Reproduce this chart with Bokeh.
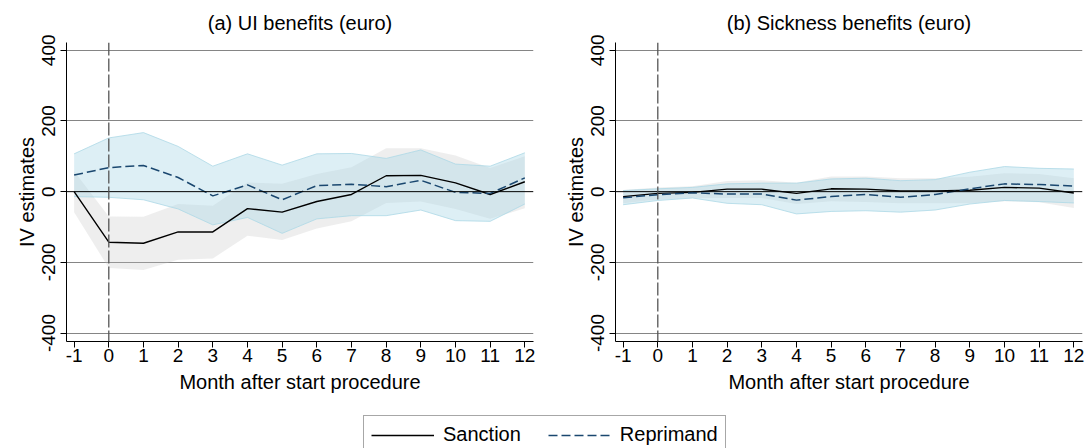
from bokeh.embed import file_html
from bokeh.layouts import column, row
from bokeh.models import ColumnDataSource, FixedTicker, Legend, LegendItem, Range1d, Span
from bokeh.plotting import figure
from bokeh.resources import INLINE

# Months relative to the start of the procedure
months = [-1, 0, 1, 2, 3, 4, 5, 6, 7, 8, 9, 10, 11, 12]

# (a) UI benefits (euro)
ui_sanction = [0, -143, -146, -114, -114, -48, -58, -28, -8, 45, 46, 25, -8, 28]
ui_sanction_lo = [-58, -216, -222, -193, -189, -125, -137, -104, -84, -32, -28, -49, -77, -47]
ui_sanction_hi = [58, -70, -71, -35, -40, 26, 22, 50, 69, 123, 123, 102, 67, 100]
ui_reprimand = [47, 68, 74, 40, -12, 19, -23, 17, 21, 14, 32, -2, -5, 39]
ui_reprimand_lo = [-14, -16, -23, -49, -94, -73, -118, -77, -68, -68, -52, -82, -84, -35]
ui_reprimand_hi = [107, 152, 167, 128, 72, 107, 75, 107, 108, 94, 118, 78, 72, 110]

# (b) Sickness benefits (euro)
sb_sanction = [-14, -5, -2, 7, 7, -5, 8, 7, 2, 2, 4, 12, 10, -4]
sb_sanction_lo = [-33, -22, -18, -18, -18, -35, -27, -29, -33, -33, -33, -27, -30, -46]
sb_sanction_hi = [5, 12, 15, 30, 32, 25, 43, 43, 38, 38, 42, 52, 50, 38]
sb_reprimand = [-17, -9, -3, -7, -7, -24, -14, -8, -16, -8, 8, 22, 20, 16]
sb_reprimand_lo = [-37, -25, -18, -33, -37, -63, -56, -54, -58, -52, -35, -25, -28, -32]
sb_reprimand_hi = [3, 8, 12, 22, 24, 24, 36, 38, 31, 34, 55, 71, 66, 64]

y_ticks = [-400, -200, 0, 200, 400]
series_labels = ["Sanction", "Reprimand"]

FONT = "Liberation Sans"
NAVY = "#1a476f"


def panel(title, s, s_lo, s_hi, r, r_lo, r_hi, width, border_left, border_right):
    p = figure(
        width=width, height=400,
        x_range=Range1d(-1.22, 12.25), y_range=Range1d(-424, 422),
        output_backend="svg", toolbar_location=None,
        min_border_left=border_left, min_border_right=border_right,
        min_border_top=42, min_border_bottom=59,
        background_fill_color="white", border_fill_color="white",
        outline_line_color=None,
    )
    p.title.text = title
    p.title.align = "center"
    p.title.text_font = FONT
    p.title.text_font_size = "20px"
    p.title.text_font_style = "normal"
    p.title.text_color = "black"
    p.title.text_line_height = 0.9
    p.title.standoff = 18

    src = ColumnDataSource(dict(x=months, s=s, s_lo=s_lo, s_hi=s_hi,
                                r=r, r_lo=r_lo, r_hi=r_hi))

    # confidence bands
    p.varea(x="x", y1="s_lo", y2="s_hi", source=src, fill_color="#c0c0c0", fill_alpha=0.27)
    p.varea(x="x", y1="r_lo", y2="r_hi", source=src, fill_color="#add8e6", fill_alpha=0.41)
    p.line(x="x", y="r_lo", source=src, line_color="#add8e6", line_width=1, line_alpha=0.8)
    p.line(x="x", y="r_hi", source=src, line_color="#add8e6", line_width=1, line_alpha=0.8)

    # reference lines
    p.add_layout(Span(location=0, dimension="width", line_color="black", line_width=1))
    p.add_layout(Span(location=0, dimension="height", line_color="#555555",
                      line_width=1.3, line_dash="13 3"))

    # point estimates
    p.line(x="x", y="s", source=src, line_color="black", line_width=1.4)
    p.line(x="x", y="r", source=src, line_color=NAVY, line_width=1.5, line_dash="9 4")

    p.xgrid.visible = False
    p.ygrid.ticker = FixedTicker(ticks=[-400, -200, 200, 400])
    p.ygrid.grid_line_color = "#858585"
    p.ygrid.grid_line_width = 1

    p.xaxis.ticker = FixedTicker(ticks=months)
    p.yaxis.ticker = FixedTicker(ticks=y_ticks)
    # plain hyphen-minus labels
    p.xaxis.major_label_overrides = {m: str(m) for m in months}
    p.yaxis.major_label_overrides = {t: str(t) for t in y_ticks}
    p.xaxis.axis_label = "Month after start procedure"
    p.yaxis.axis_label = "IV estimates"
    p.yaxis.major_label_orientation = "parallel"

    for ax in (p.xaxis, p.yaxis):
        ax.axis_line_color = "black"
        ax.axis_line_width = 1
        ax.major_tick_line_color = "black"
        ax.major_tick_out = 6
        ax.major_tick_in = 0
        ax.minor_tick_line_color = None
        ax.major_label_text_font = FONT
        ax.major_label_text_font_size = "19px"
        ax.major_label_text_color = "black"
        ax.axis_label_text_font = FONT
        ax.axis_label_text_font_size = "20px"
        ax.axis_label_text_font_style = "normal"
        ax.axis_label_text_color = "black"
    p.xaxis.major_label_standoff = 1
    p.xaxis.axis_label_standoff = 6
    p.yaxis.major_label_standoff = 5
    p.yaxis.axis_label_standoff = 2
    return p


p1 = panel("(a) UI benefits (euro)", ui_sanction, ui_sanction_lo, ui_sanction_hi,
           ui_reprimand, ui_reprimand_lo, ui_reprimand_hi, 548, 66, 15)
p2 = panel("(b) Sickness benefits (euro)", sb_sanction, sb_sanction_lo, sb_sanction_hi,
           sb_reprimand, sb_reprimand_lo, sb_reprimand_hi, 541, 67, 7)

# shared legend strip below both panels; the key renderers hold no drawable points
leg = figure(width=1089, height=48, x_range=Range1d(0, 1), y_range=Range1d(0, 1),
             output_backend="svg", toolbar_location=None,
             x_axis_location=None, y_axis_location=None,
             min_border=0, outline_line_color=None,
             background_fill_color="white", border_fill_color="white")
leg.grid.visible = False
nan = float("nan")
key_src = ColumnDataSource(dict(x=[nan], y=[nan]))
g1 = leg.line(x="x", y="y", source=key_src, line_color="black", line_width=1.4)
g2 = leg.line(x="x", y="y", source=key_src, line_color=NAVY, line_width=1.5, line_dash="9 4")
legend = Legend(
    items=[LegendItem(label=series_labels[0], renderers=[g1]),
           LegendItem(label=series_labels[1], renderers=[g2])],
    orientation="horizontal", location=(363, -6),
    glyph_width=63, glyph_height=20, label_standoff=9, spacing=27,
    padding=7, margin=0,
    label_text_font=FONT, label_text_font_size="20px", label_text_color="black",
    border_line_color="#505050", border_line_width=1,
    background_fill_color="white", background_fill_alpha=1,
)
leg.add_layout(legend, "center")

layout = column(row(p1, p2), leg)

with open("out.html", "w") as f:
    f.write(file_html(layout, INLINE))
